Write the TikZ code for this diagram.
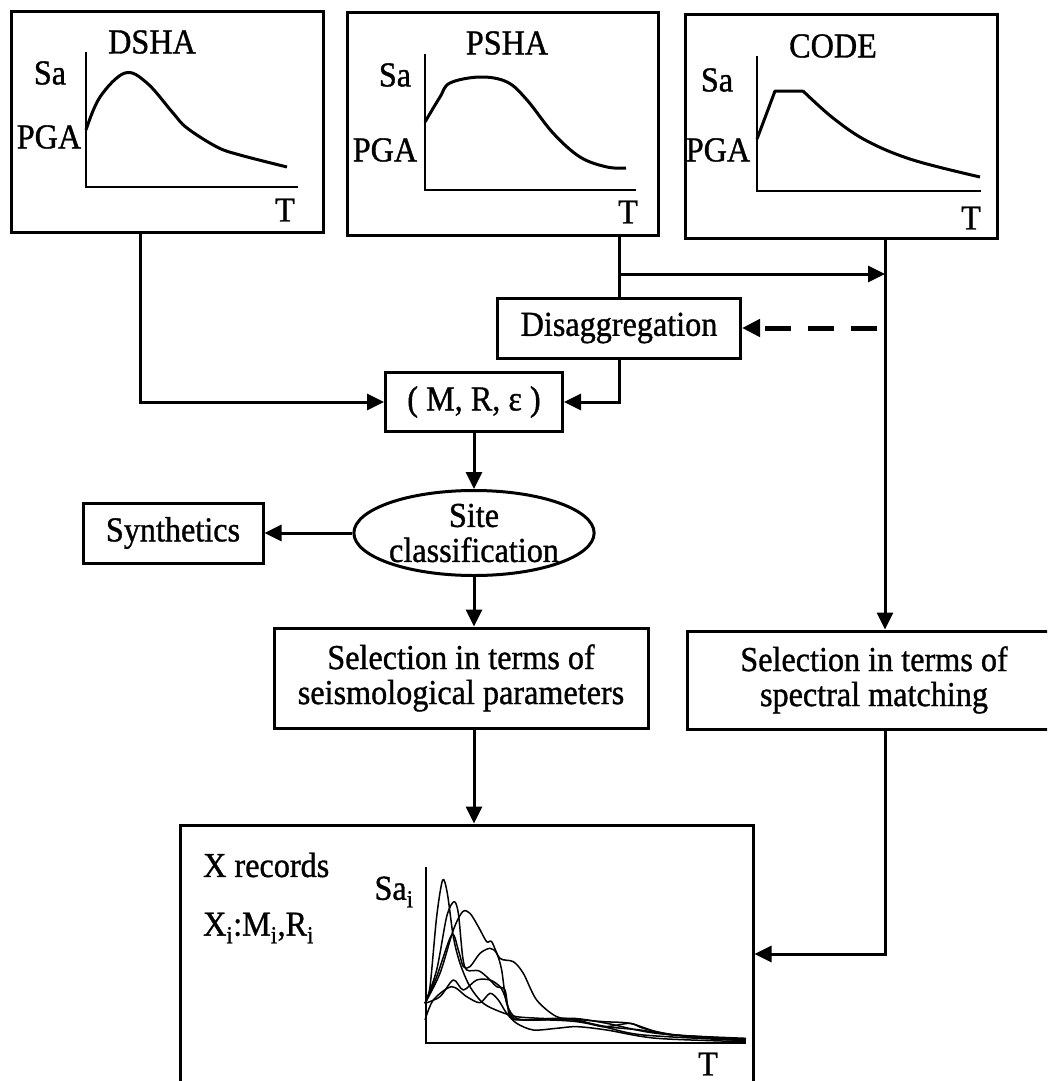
\documentclass[tikz,border=0pt]{standalone}
\usepackage{fontspec}
\setmainfont{Liberation Serif}[FakeStretch=0.92, FakeBold=1]
\usetikzlibrary{arrows.meta, shapes.geometric}

\tikzset{
  every node/.style={font=\fontsize{35}{35}\selectfont, inner sep=0pt},
  box/.style={draw, line width=3pt, align=center},
  oval/.style={draw, ellipse, line width=3pt, align=center},
  arr/.style={line width=3pt, -{Triangle[length=17pt,width=16pt]}},
  dasharr/.style={line width=5pt, dash pattern=on 26pt off 17pt, -{Triangle[length=18pt,width=17pt]}},
  curve/.style={line width=3pt, line join=round},
  axis/.style={line width=2.5pt},
  spec/.style={line width=1.5pt, line join=round},
}

\begin{document}
\begin{tikzpicture}[x=1pt, y=-1pt]
\useasboundingbox (0,0) rectangle (1047,1081);
\clip (0,0) rectangle (1047,1081);

% hazard boxes
\node[box, minimum width=312pt, minimum height=220pt] (dsha) at (167,122) {};
\node[box, minimum width=311pt, minimum height=222pt] (psha) at (502.5,124) {};
\node[box, minimum width=312pt, minimum height=223pt] (code) at (841,126.5) {};

\node (dshatitle) at (152,42) {DSHA};
\node (dshasa) at (50,73) {Sa};
\node (dshapga) at (49,137) {PGA};
\node (dshat) at (285,210) {T};
\draw[axis] (86,52) -- (86,187) -- (298,187);
\draw[curve] plot[smooth, tension=0.6] coordinates {(86,130) (100,97) (125,73) (147,83) (173,113) (187,128) (217,147) (240,155) (287,167)};

\node (pshatitle) at (507,43) {PSHA};
\node (pshasa) at (395,75) {Sa};
\node (pshapga) at (385,150) {PGA};
\node (pshat) at (628,212) {T};
\draw[axis] (425,54) -- (425,190) -- (636,190);
\draw[curve] plot[smooth, tension=0.6] coordinates {(425,122) (440,97) (450,83) (480,77) (507,82) (527,100) (553,133) (580,157) (607,167) (626,168)};

\node (codetitle) at (833,46) {CODE};
\node (codesa) at (717,80) {Sa};
\node (codepga) at (718,150) {PGA};
\node (codet) at (971,218) {T};
\draw[axis] (757,56) -- (757,191) -- (981,191);
\draw[curve] (757,139) -- (775,91) -- (803,91) plot[smooth, tension=0.6] coordinates {(803,91) (833,118) (867,141) (913,160) (980,177)};

% flow boxes
\node[box, minimum width=243pt, minimum height=60pt] (disagg) at (619,328) {Disaggregation};
\node[box, minimum width=177pt, minimum height=59pt] (mre) at (474,402) {( M, R, ε )};
\node[oval, minimum width=232pt, minimum height=85pt] (site) at (474,533) {Site\\classification};
\node[box, minimum width=180pt, minimum height=60pt] (synth) at (173,533) {Synthetics};
\node[box, minimum width=374pt, minimum height=100pt] (selseis) at (461,678) {Selection in terms of\\seismological parameters};
\node[box, minimum width=374pt, minimum height=98pt] (selspec) at (874,680) {Selection in terms of\\spectral matching};
\node[box, minimum width=573pt, minimum height=258pt] (records) at (466.5,954) {};

\coordinate (codeout) at (885,238);
\coordinate (branch) at (619,274);
\coordinate (dashend) at (877,328);

% connectors
\draw[arr] ([xshift=-27pt]dsha.south) |- (mre.west);
\draw[line width=3pt] (psha.south -| disagg.north) -- (disagg.north);
\draw[arr] (branch) -- (branch -| codeout);
\draw[arr] (codeout) -- (codeout |- selspec.north);
\draw[dasharr] (dashend) -- (disagg.east);
\draw[arr] (disagg.south) |- (mre.east);
\draw[arr] (mre.south) -- (site.north);
\draw[arr] (site.west) -- (synth.east);
\draw[arr] (site.south) -- (site.south |- selseis.north);
\draw[arr] (site.south |- selseis.south) -- (site.south |- records.north);
\draw[arr] (codeout |- selspec.south) |- (records.east);

% records
\node[anchor=west] (xrec) at (203,865) {X records};
\node[anchor=west] (xmr) at (203,928) {X\textsubscript{i}:M\textsubscript{i},R\textsubscript{i}};
\node (sai) at (394,892) {Sa\textsubscript{i}};
\node (rect) at (708,1064) {T};
\draw[axis] (426,867) -- (426,1043) -- (746,1043);
\begin{scope}[shift={(390,830)}, x=0.3333pt, y=-0.3333pt]
\draw[spec] plot[smooth, tension=0.5] coordinates {(105,520) (120,470) (140,260) (158,150) (172,190) (190,320) (210,400) (240,470) (280,520) (330,545) (380,560) (450,565) (550,570) (650,590) (750,600) (850,615) (1068,625)};
\draw[spec] plot[smooth, tension=0.5] coordinates {(105,520) (140,420) (170,260) (192,215) (205,250) (218,380) (230,420) (265,422) (290,440) (320,470) (345,480) (360,560) (400,570) (500,565) (560,570) (640,590) (720,580) (760,595) (850,615) (1068,628)};
\draw[spec] plot[smooth, tension=0.5] coordinates {(105,520) (150,430) (190,300) (218,245) (240,250) (265,290) (290,335) (305,335) (330,385) (370,395) (400,430) (440,510) (500,560) (560,568) (640,575) (720,580) (800,605) (900,620) (1068,630)};
\draw[spec] plot[smooth, tension=0.5] coordinates {(105,520) (140,440) (185,315) (205,360) (220,410) (240,410) (270,370) (300,355) (320,370) (335,420) (350,520) (380,565) (450,570) (550,565) (650,580) (800,610) (1068,628)};
\draw[spec] plot[smooth, tension=0.5] coordinates {(105,570) (130,510) (185,470) (230,500) (270,518) (300,490) (325,510) (350,550) (380,580) (430,600) (500,595) (560,590) (650,600) (800,625) (1068,635)};
\draw[spec] plot[smooth, tension=0.5] coordinates {(105,520) (150,500) (190,450) (220,480) (260,450) (300,450) (330,470) (345,500) (365,560) (400,570) (480,570) (560,575) (640,590) (760,615) (1068,632)};
\end{scope}
\end{tikzpicture}
\end{document}
